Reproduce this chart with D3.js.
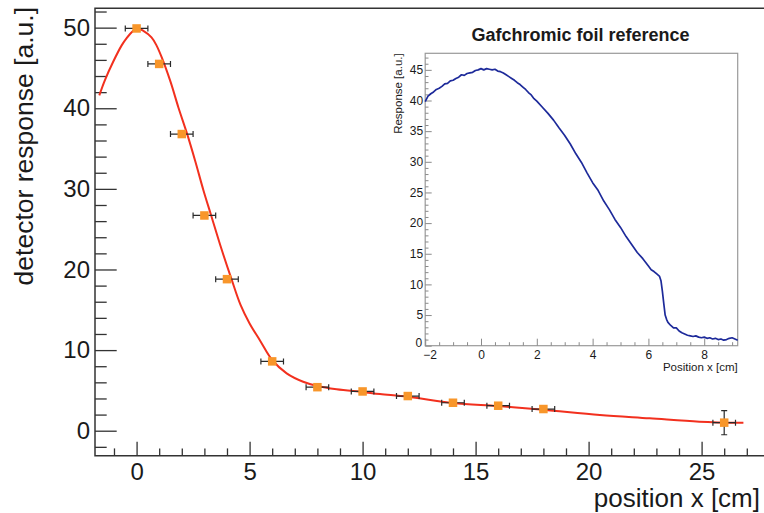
<!DOCTYPE html>
<html>
<head>
<meta charset="utf-8">
<script src="https://cdn.jsdelivr.net/npm/d3@7"></script>
<style>
  html, body { margin: 0; padding: 0; background: #fff; }
  svg { display: block; }
  text { font-family: "Liberation Sans", Arial, Helvetica, sans-serif; fill: #1a1a1a; }
</style>
</head>
<body>
<svg id="chart" width="764" height="513"></svg>
<script>
// ---------- main chart data ----------
const posX      = [0, 1, 2, 3, 4, 6, 8, 10, 12, 14, 16, 18, 26];
const response  = [49.9, 45.5, 36.8, 26.7, 18.8, 8.6, 5.4, 4.87, 4.3, 3.47, 3.1, 2.69, 1.0];
const xErr      = [0.5, 0.5, 0.5, 0.5, 0.5, 0.5, 0.5, 0.5, 0.5, 0.5, 0.5, 0.5, 0.5];
const yErr      = [0, 0, 0, 0, 0, 0, 0, 0, 0, 0, 0, 0, 1.5];

// fit curve
const fitX = [-1.65, -1.4, -1.03, -0.66, -0.44, -0.15, 0.05, 0.3, 0.66, 0.88, 1.1, 1.5, 1.85, 2.25, 2.6, 2.95, 3.3, 3.75, 4.2, 4.6, 5.0, 5.46, 6.0, 6.64, 7.37, 8.0, 8.85, 10.0, 10.77, 12.0, 14.0, 16.0, 18.0, 20.5, 22.7, 24.9, 26.85];
const fitY = [41.6, 43.5, 45.8, 47.8, 48.7, 49.6, 49.9, 49.6, 48.8, 47.8, 46.4, 43.3, 40.1, 36.7, 33.4, 29.9, 26.7, 22.6, 18.8, 15.6, 13.3, 11.2, 8.77, 7.12, 6.08, 5.55, 5.14, 4.8, 4.55, 4.22, 3.45, 3.06, 2.6, 1.95, 1.54, 1.12, 0.98];

const mainXMajor = [0, 5, 10, 15, 20, 25];
const mainYMajor = [0, 10, 20, 30, 40, 50];

// ---------- inset data (Gafchromic foil) ----------
const foilX = [-2.0,-1.9,-1.8,-1.7,-1.6,-1.5,-1.4,-1.3,-1.2,-1.1,-1.0,-0.9,-0.8,-0.7,-0.6,-0.5,-0.4,-0.3,-0.2,-0.1,0.0,0.1,0.2,0.3,0.4,0.5,0.6,0.7,0.8,0.9,1.0,1.1,1.2,1.3,1.4,1.5,1.6,1.7,1.8,1.9,2.0,2.2,2.4,2.6,2.8,3.0,3.2,3.4,3.6,3.8,4.0,4.2,4.4,4.6,4.8,5.0,5.2,5.4,5.6,5.8,6.0,6.1,6.2,6.3,6.4,6.45,6.5,6.55,6.6,6.65,6.7,6.8,6.9,7.0,7.1,7.2,7.3,7.4,7.5,7.6,7.7,7.8,7.9,8.0,8.1,8.2,8.3,8.4,8.5,8.6,8.7,8.8,8.9,9.0,9.1,9.2];
const foilY = [39.8,40.7,41.1,41.4,41.8,42.0,42.3,42.7,42.8,43.2,43.3,43.6,43.8,44.2,44.1,44.4,44.5,44.6,44.9,45.0,45.2,45.0,45.2,45.1,45.0,45.1,44.8,44.7,44.5,44.2,43.9,43.6,43.3,42.9,42.6,42.2,41.8,41.3,40.9,40.3,39.9,38.9,37.9,36.8,35.5,34.3,32.9,31.3,29.9,28.2,26.6,25.3,23.6,22.2,20.6,19.3,17.8,16.5,15.2,14.2,13.0,12.4,12.1,11.7,11.3,10.6,8.9,6.9,5.0,4.3,3.8,3.3,2.9,2.9,2.4,2.1,1.9,1.7,1.6,1.5,1.6,1.4,1.3,1.4,1.2,1.3,1.1,1.2,1.0,1.1,0.9,1.0,1.2,1.3,1.1,0.9];
const insetXMajor = [-2, 0, 2, 4, 6, 8];
const insetYMajor = [0, 5, 10, 15, 20, 25, 30, 35, 40, 45];

const mainTitleY = "detector response [a.u.]";
const mainTitleX = "position x [cm]";
const insetTitle = "Gafchromic foil reference";
const insetTitleY = "Response [a.u.]";
const insetTitleX = "Position x [cm]";

// ---------- drawing ----------
const svg = d3.select("#chart");
const axisColor = "#333";
const fontFam = '"Liberation Sans", Arial, sans-serif';

const x = d3.scaleLinear().domain([-1.84, 29]).range([95, 792]);
const y = d3.scaleLinear().domain([-3.1, 52.4]).range([455.7, 8.3]);

function styleAxis(g, color, width) {
  g.select(".domain").remove();
  g.selectAll(".tick line").attr("stroke", color).attr("stroke-width", width);
}

// main frame
const X0 = x.range()[0], YB = y.range()[0], YT = y.range()[1];
svg.append("path")
  .attr("d", `M764,${YT}H${X0}V${YB}H764`)
  .attr("fill", "none").attr("stroke", axisColor).attr("stroke-width", 1.5);

// y axis (major + minor)
const yMinor = d3.range(-2, 53, 2).filter(v => !mainYMajor.includes(v));
svg.append("g").attr("transform", `translate(${X0},0)`)
  .call(d3.axisLeft(y).tickValues(yMinor).tickSizeInner(-11.7).tickSizeOuter(0).tickFormat(""))
  .call(g => styleAxis(g, axisColor, 1.3));
svg.append("g").attr("transform", `translate(${X0},0)`)
  .call(d3.axisLeft(y).tickValues(mainYMajor).tickSizeInner(-21.7).tickSizeOuter(0).tickPadding(5))
  .call(g => styleAxis(g, axisColor, 1.3))
  .call(g => g.selectAll("text").attr("font-size", 24).style("font-family", fontFam).attr("fill", "#1a1a1a"));

// x axis (major + minor)
const xMinor = d3.range(-1, 29, 1).filter(v => !mainXMajor.includes(v));
svg.append("g").attr("transform", `translate(0,${YB})`)
  .call(d3.axisBottom(x).tickValues(xMinor).tickSizeInner(-7.3).tickSizeOuter(0).tickFormat(""))
  .call(g => styleAxis(g, axisColor, 1.3));
svg.append("g").attr("transform", `translate(0,${YB})`)
  .call(d3.axisBottom(x).tickValues(mainXMajor).tickSizeInner(-14).tickSizeOuter(0).tickPadding(7.3))
  .call(g => styleAxis(g, axisColor, 1.3))
  .call(g => g.selectAll("text").attr("font-size", 24).style("font-family", fontFam).attr("fill", "#1a1a1a"));

// axis titles
svg.append("text")
  .attr("transform", "translate(33,7) rotate(-90)")
  .attr("text-anchor", "end").attr("font-size", 26.5).text(mainTitleY);
svg.append("text")
  .attr("x", 760).attr("y", 507)
  .attr("text-anchor", "end").attr("font-size", 26).text(mainTitleX);

// fit curve
const fitData = fitX.map((v, i) => [v, fitY[i]]);
svg.append("path")
  .datum(fitData)
  .attr("d", d3.line().x(d => x(d[0])).y(d => y(d[1])).curve(d3.curveCatmullRom.alpha(0.5)))
  .attr("fill", "none").attr("stroke", "#f2301e").attr("stroke-width", 2);

// error bars
const pts = posX.map((v, i) => ({ x: v, y: response[i], ex: xErr[i], ey: yErr[i] }));
const eb = svg.append("g").attr("stroke", "#2a2a2a").attr("stroke-width", 1.2).attr("fill", "none");
pts.forEach(p => {
  const cx = x(p.x), cy = y(p.y);
  const xl = x(p.x - p.ex), xr = x(p.x + p.ex);
  eb.append("path").attr("d", `M${xl},${cy}H${xr}M${xl},${cy - 3}V${cy + 3}M${xr},${cy - 3}V${cy + 3}`);
  if (p.ey > 0) {
    const yt = y(p.y + p.ey), yb = y(p.y - p.ey);
    eb.append("path").attr("d", `M${cx},${yt}V${yb}M${cx - 3},${yt}H${cx + 3}M${cx - 3},${yb}H${cx + 3}`);
  }
});

// markers
const ms = 8.5;
svg.append("g").selectAll("rect").data(pts).join("rect")
  .attr("x", d => x(d.x) - ms / 2).attr("y", d => y(d.y) - ms / 2)
  .attr("width", ms).attr("height", ms)
  .attr("fill", "#f8962a");

// ---------- inset ----------
const xi = d3.scaleLinear().domain([-2, 9.2]).range([425.2, 737.7]);
const yi = d3.scaleLinear().domain([0, 47.7]).range([345.7, 53.3]);
const insetGray = "#8a8a8a";

svg.append("rect")
  .attr("x", xi.range()[0]).attr("y", yi.range()[1])
  .attr("width", xi.range()[1] - xi.range()[0]).attr("height", yi.range()[0] - yi.range()[1])
  .attr("fill", "#fff").attr("stroke", "#9a9a9a").attr("stroke-width", 1.2);

const xiMinor = d3.range(-1.5, 9.2, 0.5).filter(v => !insetXMajor.includes(v));
svg.append("g").attr("transform", `translate(0,${yi.range()[0]})`)
  .call(d3.axisBottom(xi).tickValues(xiMinor).tickSizeInner(-3.5).tickSizeOuter(0).tickFormat(""))
  .call(g => styleAxis(g, insetGray, 1));
svg.append("g").attr("transform", `translate(0,${yi.range()[0]})`)
  .call(d3.axisBottom(xi).tickValues(insetXMajor).tickSizeInner(-7).tickSizeOuter(0).tickPadding(4.8).tickFormat(d3.format("d")))
  .call(g => styleAxis(g, insetGray, 1))
  .call(g => g.selectAll("text").attr("font-size", 12).style("font-family", fontFam).attr("fill", "#1a1a1a"))
  .call(g => g.selectAll(".tick").filter(d => d === -2).select("text").attr("dx", 4.5));

const yiMinor = d3.range(1, 48, 1).filter(v => !insetYMajor.includes(v));
svg.append("g").attr("transform", `translate(${xi.range()[0]},0)`)
  .call(d3.axisLeft(yi).tickValues(yiMinor).tickSizeInner(-3.3).tickSizeOuter(0).tickFormat(""))
  .call(g => styleAxis(g, insetGray, 1));
svg.append("g").attr("transform", `translate(${xi.range()[0]},0)`)
  .call(d3.axisLeft(yi).tickValues(insetYMajor).tickSizeInner(-6.5).tickSizeOuter(0).tickPadding(2))
  .call(g => styleAxis(g, insetGray, 1))
  .call(g => g.selectAll("text").attr("font-size", 12).style("font-family", fontFam).attr("fill", "#1a1a1a"))
  .call(g => g.selectAll(".tick").filter(d => d === 0).select("text").attr("dy", "0.1em").attr("dx", -1));

svg.append("text")
  .attr("transform", `translate(401.5,${yi.range()[1]}) rotate(-90)`)
  .attr("text-anchor", "end").attr("font-size", 11.5).text(insetTitleY);
svg.append("text")
  .attr("x", xi.range()[1]).attr("y", 371)
  .attr("text-anchor", "end").attr("font-size", 11.5).text(insetTitleX);
svg.append("text")
  .attr("x", 580.5).attr("y", 40.5)
  .attr("text-anchor", "middle").attr("font-size", 18).attr("font-weight", "bold").text(insetTitle);

const foilData = foilX.map((v, i) => [v, foilY[i]]);
svg.append("path")
  .datum(foilData)
  .attr("d", d3.line().x(d => xi(d[0])).y(d => yi(d[1])))
  .attr("fill", "none").attr("stroke", "#1d2a9a").attr("stroke-width", 1.7).attr("stroke-linejoin", "round");
</script>
</body>
</html>
